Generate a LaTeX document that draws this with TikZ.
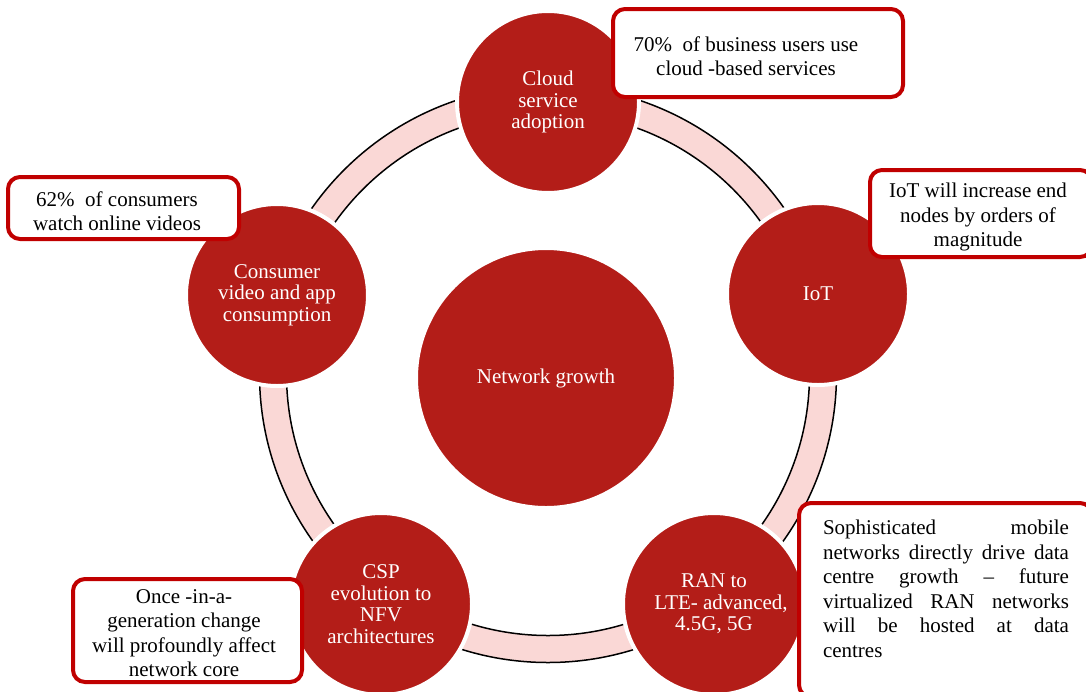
\documentclass[tikz,border=0pt]{standalone}
\usepackage{fontspec}
\setmainfont{Liberation Serif}
\definecolor{circred}{RGB}{179,29,24}
\definecolor{boxred}{RGB}{192,0,0}
\definecolor{ringpink}{RGB}{250,216,214}
\begin{document}
\begin{tikzpicture}[x=1pt,y=-1pt,
  hub/.style={circle, fill=circred, draw=white, line width=4pt, text=white, align=center,
    font=\fontsize{21}{21.5}\selectfont, inner sep=0pt},
  callout/.style={draw=boxred, line width=4pt, fill=white, rounded corners=12pt, inner sep=0pt},
  ctext/.style={align=center, font=\fontsize{21}{24.5}\selectfont, inner sep=0pt},
  ringline/.style={line width=1.5pt, draw=black}]
\clip (0,0) rectangle (1086,691);
\fill[white] (0,0) rectangle (1086,691);
% ring
\coordinate (rc) at (548,374);
\fill[ringpink, even odd rule] (rc) circle (288.5pt) (rc) circle (261.5pt);
\draw[ringline] (rc) circle (288.5pt);
\draw[ringline] (rc) circle (261.5pt);
% circles
\node[hub, minimum size=260pt] (net) at (546,378) {Network growth};
\node[hub, minimum size=182pt] (cloud) at (548,102) {Cloud\\service\\adoption};
\node[hub, minimum size=182pt] (iot) at (818,294) {IoT};
\node[hub, minimum size=182pt] (cons) at (277,295) {Consumer\\video and app\\consumption};
\node[hub, minimum size=182pt] (csp) at (381,604) {CSP\\evolution to\\NFV\\architectures};
\node[hub, minimum size=182pt] (ran) at (714,604) {RAN to\\\hspace*{14pt}LTE- advanced,\\4.5G, 5G};
% callouts
\node[callout, minimum width=290pt, minimum height=88pt] (b1) at (758,53) {};
\node[ctext] (t1) at (746,56) {70\%\ \ of business users use\\cloud -based services};
\node[callout, minimum width=222pt, minimum height=87pt] (b2) at (981,213.5) {};
\node[ctext] (t2) at (978,217) {IoT will increase end\\nodes by orders of\\magnitude};
\node[callout, minimum width=231pt, minimum height=62pt] (b3) at (123.5,208) {};
\node[ctext] (t3) at (117,211) {62\%\ \ of consumers\\watch online videos};
\node[callout, minimum width=229pt, minimum height=103pt] (b4) at (187.5,630.5) {};
\node[ctext] (t4) at (184,633) {Once -in-a-\\generation change\\will profoundly affect\\network core};
\node[callout, minimum width=293pt, minimum height=194pt] (b5) at (945.5,600) {};
\node[ctext, align=left] (t5) at (946,589) {%
\makebox[246pt][s]{Sophisticated mobile}\\
\makebox[246pt][s]{networks directly drive data}\\
\makebox[246pt][s]{centre growth – future}\\
\makebox[246pt][s]{virtualized RAN networks}\\
\makebox[246pt][s]{will be hosted at data}\\
\makebox[246pt][l]{centres}};
\end{tikzpicture}
\end{document}
